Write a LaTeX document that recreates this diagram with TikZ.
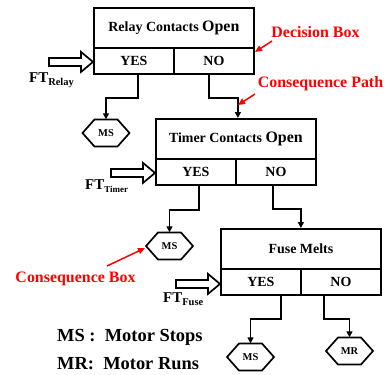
\documentclass[tikz,border=0pt]{standalone}
\usepackage{fontspec}
\setmainfont{Liberation Serif}
\usetikzlibrary{arrows.meta,calc}
\newcommand\hexaround[1]{\draw[hexline] ($(#1)+(-23.5,0)$) -- ++(12,-13.5) -- ++(23,0) -- ++(12,13.5) -- ++(-12,13.5) -- ++(-23,0) -- cycle;}
\newcommand\hollowarrow[1]{\draw[hexline, line join=miter] (#1) -- ++(-12,-10) -- ++(0,6) -- ++(-32,0) -- ++(0,8) -- ++(32,0) -- ++(0,6) -- cycle;}
\begin{document}
\begin{tikzpicture}[x=1bp,y=-1bp,
  box/.style={draw, line width=1.8bp, minimum width=160bp, minimum height=40bp, inner sep=0pt, anchor=north west, font=\fontsize{14}{16}\selectfont\bfseries},
  cell/.style={draw, line width=1.8bp, minimum width=80bp, minimum height=26bp, inner sep=0pt, anchor=north west, font=\fontsize{14}{16}\selectfont\bfseries},
  hex/.style={minimum width=47bp, minimum height=27bp, inner sep=0pt, font=\fontsize{10.5}{12}\selectfont\bfseries},
  hexline/.style={draw, line width=1.7bp},
  conn/.style={line width=1.8bp, -{Triangle[length=6bp,width=6bp]}},
  redarr/.style={red, line width=1.5bp, -{Triangle[length=7bp,width=6bp]}},
  redlbl/.style={text=red, font=\fontsize{16}{18}\selectfont\bfseries, inner sep=0pt},
  ftlbl/.style={font=\fontsize{15}{17}\selectfont\bfseries, inner sep=0pt, anchor=base west},
  legend/.style={font=\fontsize{18.5}{20}\selectfont\bfseries, inner sep=0pt, anchor=west}
]
\useasboundingbox (0,0) rectangle (389,375);

% Box 1
\node[box] (t1) at (93,7) {Relay Contacts {\fontsize{16}{18}\selectfont Open}};
\node[cell] (y1) at (93,47) {YES};
\node[cell] (n1) at (173,47) {NO};
% Box 2
\node[box] (t2) at (155,118) {Timer Contacts {\fontsize{16}{18}\selectfont Open}};
\node[cell] (y2) at (155,158) {YES};
\node[cell] (n2) at (235,158) {NO};
% Box 3
\node[box] (t3) at (220,228) {Fuse Melts};
\node[cell] (y3) at (220,268) {YES};
\node[cell] (n3) at (300,268) {NO};

% Consequence boxes
\node[hex] (ms1) at (106,133) {MS};
\node[hex] (ms2) at (169.5,246) {MS};
\node[hex] (ms3) at (250.5,357) {MS};
\node[hex] (mr) at (349.5,351) {MR};
\hexaround{ms1}
\hexaround{ms2}
\hexaround{ms3}
\hexaround{mr}

% Paths
\draw[conn] ($(y1.south)+(4,0)$) -- ++(0,23) -| (ms1.north);
\draw[conn] ($(n1.south)+(-5,0)$) -- ++(0,23) -| ($(t2.north)+(2,0)$);
\draw[conn] ($(y2.south)+(3,0)$) -- ++(0,24) -| (ms2.north);
\draw[conn] ($(n2.south)+(-3,0)$) -- ++(0,23) -| (t3.north);
\draw[conn] ($(y3.south)+(20,0)$) -- ++(0,23) -| (ms3.north);
\draw[conn] ($(n3.south)+(-17,0)$) -- ++(0,23) -| (mr.north);

% FT arrows
\coordinate (fa1) at ($(y1.west)+(0,1)$);
\coordinate (fa2) at ($(y2.west)+(0,1)$);
\coordinate (fa3) at ($(y3.west)+(0,2)$);
\hollowarrow{fa1}
\hollowarrow{fa2}
\hollowarrow{fa3}
\node[ftlbl] (ft1) at (29,82) {FT\raisebox{-3.5bp}{\fontsize{10.5}{12}\selectfont Relay}};
\node[ftlbl] (ft2) at (85,189) {FT\raisebox{-3.5bp}{\fontsize{9}{11}\selectfont Timer}};
\node[ftlbl] (ft3) at (163,302) {FT\raisebox{-3.5bp}{\fontsize{10.5}{12}\selectfont Fuse}};

% Red annotations
\node[redlbl] (dec) at (315.5,32) {Decision Box};
\node[redlbl] (cpath) at (320.5,84) {Consequence Path};
\node[redlbl] (cbox) at (75.5,279) {Consequence Box};
\coordinate (d0) at (272,41);
\coordinate (d1) at (255,52);
\coordinate (p0) at (255,94);
\coordinate (p1) at (238,105);
\coordinate (b0) at (107,266);
\coordinate (b1) at (145,248);
\draw[redarr] (d0) -- (d1);
\draw[redarr] (p0) -- (p1);
\draw[redarr] (b0) -- (b1);

% Legend
\node[legend] (lg1) at (57,337) {MS :\ \ Motor Stops};
\node[legend] (lg2) at (57,364) {MR:\ \ Motor Runs};
\end{tikzpicture}
\end{document}
